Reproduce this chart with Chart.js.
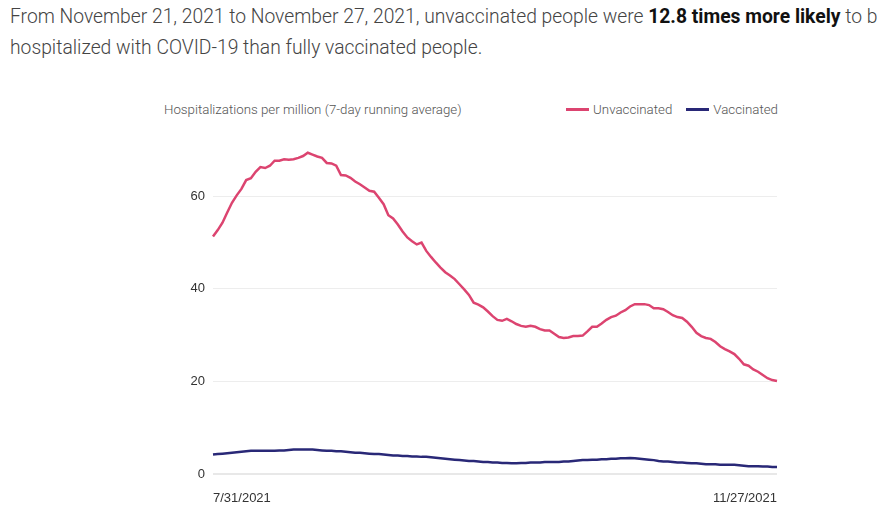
<!DOCTYPE html>
<html>
<head>
<meta charset="utf-8">
<script src="https://cdn.jsdelivr.net/npm/chart.js@4.4.1/dist/chart.umd.min.js"></script>
<style>
    body {
        margin: 0;
        width: 877px;
        height: 528px;
        overflow: hidden;
        position: relative;
        background: #fff;
        font-family: Roboto, "Liberation Sans", sans-serif;
    }
    #intro {
        position: absolute;
        left: 10px;
        top: 1px;
        font-size: 19.3px;
        font-weight: 300;
        line-height: 31px;
        color: #444;
        white-space: nowrap;
    }
    #intro b { color: #111; font-weight: 700; }
    #chart-title {
        position: absolute;
        left: 164px;
        top: 102px;
        font-size: 13.3px;
        font-weight: 300;
        color: #555;
    }
    #legend {
        position: absolute;
        right: 99px;
        top: 102px;
        font-size: 13.3px;
        font-weight: 300;
        color: #555;
        display: flex;
        align-items: center;
    }
    #legend .item { display: flex; align-items: center; margin-left: 14px; }
    #legend .swatch { width: 23px; height: 3px; margin-right: 4px; }
    #chart-box {
        position: absolute;
        left: 150px;
        top: 130px;
        width: 640px;
        height: 380px;
    }
</style>
</head>
<body>
<div id="intro">From November 21, 2021 to November 27, 2021, unvaccinated people were <b>12.8 times more likely</b> to be<br>hospitalized with COVID-19 than fully vaccinated people.</div>
<div id="chart-title">Hospitalizations per million (7-day running average)</div>
<div id="legend"></div>
<div id="chart-box"><canvas id="hosp-chart"></canvas></div>

<script>
// --- DATA ---
const startDate = new Date(2021, 6, 31); // 7/31/2021, one point per day to 11/27/2021
const dayCount = 120;

const unvaccinated = [
    51.3, 52.7, 54.3, 56.5, 58.6, 60.2, 61.6, 63.5, 63.9, 65.3,
    66.3, 66.1, 66.6, 67.7, 67.7, 68.0, 67.9, 68.0, 68.3, 68.7,
    69.4, 69.0, 68.6, 68.3, 67.2, 67.1, 66.6, 64.6, 64.5, 64.0,
    63.2, 62.6, 61.9, 61.2, 61.0, 59.7, 58.3, 55.9, 55.2, 53.9,
    52.4, 51.1, 50.3, 49.6, 50.0, 48.2, 46.9, 45.7, 44.6, 43.6,
    42.9, 42.1, 41.0, 39.9, 38.7, 37.0, 36.6, 36.0, 35.1, 34.1,
    33.3, 33.1, 33.5, 33.0, 32.4, 32.0, 31.8, 32.0, 31.8, 31.3,
    31.0, 31.0, 30.3, 29.6, 29.4, 29.5, 29.8, 29.8, 29.9, 30.8,
    31.8, 31.8, 32.5, 33.3, 33.9, 34.2, 34.9, 35.4, 36.2, 36.7,
    36.7, 36.7, 36.5, 35.8, 35.8, 35.6, 35.0, 34.3, 33.9, 33.7,
    32.9, 31.8, 30.5, 29.8, 29.4, 29.2, 28.5, 27.6, 27.0, 26.5,
    25.9, 24.9, 23.7, 23.4, 22.6, 22.1, 21.4, 20.7, 20.3, 20.1
];

const vaccinated = [
    4.2, 4.3, 4.4, 4.5, 4.6, 4.7, 4.8, 4.9, 5.0, 5.0,
    5.0, 5.0, 5.0, 5.0, 5.1, 5.1, 5.2, 5.3, 5.3, 5.3,
    5.3, 5.3, 5.2, 5.1, 5.0, 5.0, 4.9, 4.9, 4.8, 4.7,
    4.6, 4.6, 4.5, 4.4, 4.3, 4.3, 4.2, 4.1, 4.0, 4.0,
    3.9, 3.9, 3.8, 3.8, 3.7, 3.7, 3.6, 3.5, 3.4, 3.3,
    3.2, 3.1, 3.0, 2.9, 2.8, 2.8, 2.7, 2.6, 2.6, 2.5,
    2.5, 2.4, 2.4, 2.3, 2.3, 2.4, 2.4, 2.5, 2.5, 2.5,
    2.6, 2.6, 2.6, 2.6, 2.7, 2.7, 2.8, 2.9, 3.0, 3.0,
    3.1, 3.1, 3.2, 3.2, 3.3, 3.3, 3.4, 3.4, 3.45, 3.4,
    3.3, 3.2, 3.1, 3.0, 2.8, 2.7, 2.7, 2.6, 2.5, 2.5,
    2.4, 2.3, 2.3, 2.2, 2.1, 2.1, 2.1, 2.0, 2.0, 2.0,
    2.0, 1.9, 1.8, 1.7, 1.7, 1.7, 1.6, 1.6, 1.5, 1.5
];

const yTicks = [0, 20, 40, 60];
const seriesNames = ['Unvaccinated', 'Vaccinated'];
const seriesColors = ['#dc4470', '#292877'];

// --- LABELS ---
const labels = [];
for (let i = 0; i < dayCount; i++) {
    const d = new Date(startDate);
    d.setDate(d.getDate() + i);
    labels.push((d.getMonth() + 1) + '/' + d.getDate() + '/' + d.getFullYear());
}

// --- LEGEND ---
const legendEl = document.getElementById('legend');
seriesNames.forEach((name, i) => {
    const item = document.createElement('div');
    item.className = 'item';
    item.innerHTML = `<span class="swatch" style="background:${seriesColors[i]}"></span><span>${name}</span>`;
    legendEl.appendChild(item);
});

// --- CHART ---
const tickFont = { family: '"Liberation Sans", Arial, sans-serif', size: 13 };

new Chart(document.getElementById('hosp-chart'), {
    type: 'line',
    data: {
        labels: labels,
        datasets: [
            { label: seriesNames[0], data: unvaccinated, borderColor: seriesColors[0], borderWidth: 2.5, pointRadius: 0, tension: 0 },
            { label: seriesNames[1], data: vaccinated, borderColor: seriesColors[1], borderWidth: 2.5, pointRadius: 0, tension: 0 }
        ]
    },
    options: {
        responsive: true,
        maintainAspectRatio: false,
        animation: false,
        layout: { padding: { top: 20, right: 13, left: 0, bottom: 0 } },
        plugins: { legend: { display: false }, tooltip: { enabled: false } },
        scales: {
            x: {
                grid: { display: false },
                border: { display: false },
                afterFit: scale => { scale.height = 36; },
                ticks: {
                    autoSkip: false,
                    maxRotation: 0,
                    align: 'inner',
                    padding: 9,
                    color: '#333',
                    font: tickFont,
                    callback: (value, index) => (index === 0 || index === labels.length - 1) ? labels[index] : null
                }
            },
            y: {
                min: 0,
                max: 70,
                afterFit: scale => { scale.width = 63; },
                afterBuildTicks: scale => {
                    scale.ticks = yTicks.map(v => ({ value: v }));
                },
                border: { display: false },
                grid: {
                    drawTicks: false,
                    color: ctx => ctx.tick && ctx.tick.value === 0 ? '#e8e8e8' : '#ededed',
                    lineWidth: ctx => ctx.tick && ctx.tick.value === 0 ? 2 : 1
                },
                ticks: { padding: 8, color: '#333', font: tickFont }
            }
        }
    }
});
</script>
</body>
</html>
